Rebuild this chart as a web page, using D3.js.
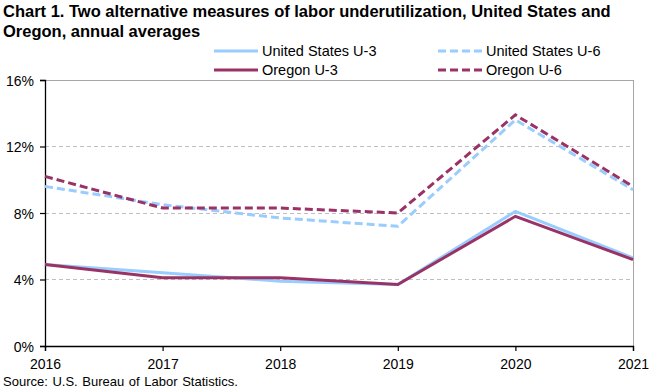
<!DOCTYPE html>
<html><head><meta charset="utf-8">
<script src="https://cdn.jsdelivr.net/npm/d3@7"></script>
<style>body{margin:0;background:#fff}svg{display:block}text{font-family:"Liberation Sans",Arial,sans-serif}</style>
</head><body><svg id="c" width="660" height="391"></svg>
<script>
const years = [2016, 2017, 2018, 2019, 2020, 2021];
const usU3 = [4.9, 4.4, 3.9, 3.7, 8.1, 5.3];
const usU6 = [9.6, 8.5, 7.7, 7.2, 13.6, 9.4];
const orU3 = [4.9, 4.1, 4.1, 3.7, 7.8, 5.2];
const orU6 = [10.2, 8.3, 8.3, 8.0, 13.9, 9.6];
const yTicks = [0, 4, 8, 12, 16];
const seriesNames = ["United States U-3", "United States U-6", "Oregon U-3", "Oregon U-6"];

const series = [
  {name: seriesNames[0], values: usU3, color: "#99ccff", dash: null},
  {name: seriesNames[1], values: usU6, color: "#99ccff", dash: "8,4"},
  {name: seriesNames[2], values: orU3, color: "#993366", dash: null},
  {name: seriesNames[3], values: orU6, color: "#993366", dash: "8,4"}
];

const svg = d3.select("#c");
const L = 45, R = 633, T = 80, B = 346;
const x = d3.scaleLinear().domain([2016, 2021]).range([L, R]);
const y = d3.scaleLinear().domain([0, 16]).range([B, T]);

// title
const title = svg.append("text").attr("x", 3).attr("font-weight", "bold").attr("font-size", 16.5);
title.append("tspan").attr("x", 3).attr("y", 17).text("Chart 1. Two alternative measures of labor underutilization, United States and");
title.append("tspan").attr("x", 3).attr("y", 37).text("Oregon, annual averages");

// gridlines
svg.append("g").selectAll("line").data(yTicks.filter(d => d > 0 && d < 16)).join("line")
  .attr("x1", L).attr("x2", R).attr("y1", d => y(d)).attr("y2", d => y(d))
  .attr("stroke", "#bfbfbf").attr("stroke-width", 1).attr("stroke-dasharray", "4,3")
  .attr("shape-rendering", "crispEdges");
// top & right border
svg.append("path").attr("d", `M${L},${y(16)}H${R}V${B}`).attr("fill", "none")
  .attr("stroke", "#a6a6a6").attr("stroke-width", 1).attr("shape-rendering", "crispEdges");

// axes
const yAxis = svg.append("g").attr("transform", `translate(${L},0)`)
  .call(d3.axisLeft(y).tickValues(yTicks).tickFormat(d => d + "%").tickSize(5).tickPadding(6));
const xAxis = svg.append("g").attr("transform", `translate(0,${B})`)
  .call(d3.axisBottom(x).tickValues(years).tickFormat(d3.format("d")).tickSize(5).tickPadding(8));
[yAxis, xAxis].forEach(g => {
  g.select(".domain").attr("stroke", "#000").attr("stroke-width", 1.3);
  g.selectAll(".tick line").attr("stroke", "#000").attr("stroke-width", 1.2);
  g.selectAll("text").attr("font-size", 14).attr("fill", "#000").attr("font-family", "Liberation Sans, Arial, sans-serif");
});
yAxis.selectAll("text").attr("dy", "0.36em");

// lines
const line = d3.line().x((d, i) => x(years[i])).y(d => y(d));
svg.append("g").selectAll("path").data(series).join("path")
  .attr("d", d => line(d.values)).attr("fill", "none")
  .attr("stroke", d => d.color).attr("stroke-width", 3)
  .attr("stroke-dasharray", d => d.dash);

// legend
const legPos = [[214, 51], [438, 51], [214, 70], [438, 70]];
const leg = svg.append("g").selectAll("g").data(series).join("g")
  .attr("transform", (d, i) => `translate(${legPos[i][0]},${legPos[i][1]})`);
leg.append("line").attr("x1", 0).attr("x2", 44).attr("y1", 0).attr("y2", 0)
  .attr("stroke", d => d.color).attr("stroke-width", 3).attr("stroke-dasharray", d => d.dash);
leg.append("text").attr("x", 48).attr("y", 5).attr("font-size", 14.5).text(d => d.name);

// source
svg.append("text").attr("x", 3).attr("y", 386).attr("font-size", 13).attr("word-spacing", 1)
  .text("Source: U.S. Bureau of Labor Statistics.");
</script></body></html>
